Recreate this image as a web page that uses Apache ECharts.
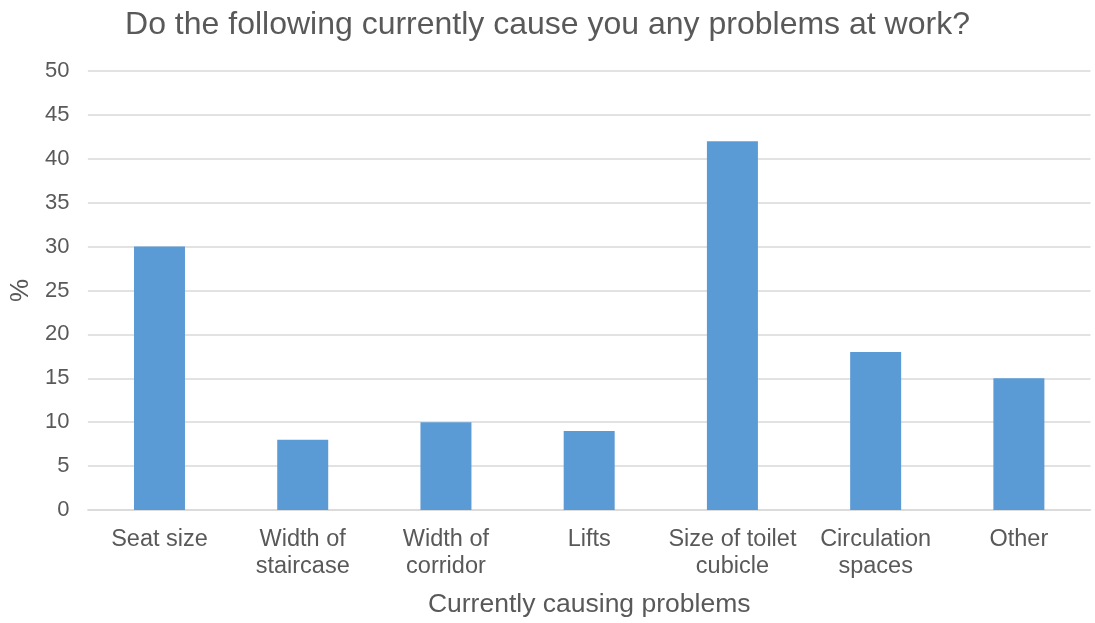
<!DOCTYPE html>
<html>
<head>
<meta charset="utf-8">
<script src="https://cdn.jsdelivr.net/npm/echarts@6/dist/echarts.min.js"></script>
<style>
html,body{margin:0;padding:0;background:#fff;}
#chart{width:1095px;height:623px;}
</style>
</head>
<body>
<div id="chart"></div>
<script>
const categories = ["Seat size", "Width of\nstaircase", "Width of\ncorridor", "Lifts", "Size of toilet\ncubicle", "Circulation\nspaces", "Other"];
const values = [30, 8, 10, 9, 42, 18, 15];
const yTicks = [0, 5, 10, 15, 20, 25, 30, 35, 40, 45, 50];

const FONT = "Liberation Sans, Arial, sans-serif";
const TXT = "#595959";
const chart = echarts.init(document.getElementById('chart'));
chart.setOption({
  animation: false,
  backgroundColor: '#ffffff',
  title: {
    text: 'Do the following currently cause you any problems at work?',
    left: 'center',
    top: 4,
    textStyle: { fontFamily: FONT, fontSize: 32, fontWeight: 'normal', color: TXT }
  },
  grid: { left: 85.5, right: 4.5, top: 71, bottom: 110.5, containLabel: false },
  xAxis: {
    type: 'category',
    data: categories,
    name: 'Currently causing problems',
    nameLocation: 'middle',
    nameGap: 81,
    nameTextStyle: { fontFamily: FONT, fontSize: 26.5, color: TXT },
    axisLine: { show: true, lineStyle: { color: '#d9d9d9', width: 1.5 } },
    axisTick: { show: false },
    axisLabel: { fontFamily: FONT, fontSize: 23.5, color: TXT, margin: 16, lineHeight: 27, interval: 0 }
  },
  yAxis: {
    type: 'value',
    min: yTicks[0],
    max: yTicks[yTicks.length - 1],
    interval: yTicks[1] - yTicks[0],
    name: '%',
    nameLocation: 'middle',
    nameGap: 50,
    nameRotate: 90,
    nameTextStyle: { fontFamily: FONT, fontSize: 26, color: TXT },
    axisLine: { show: false },
    axisTick: { show: false },
    axisLabel: { fontFamily: FONT, fontSize: 22, color: TXT, margin: 18.5 },
    splitLine: { lineStyle: { color: '#d9d9d9', width: 1.5 } }
  },
  series: [{
    type: 'bar',
    data: values,
    barWidth: 51,
    itemStyle: { color: '#5b9bd5' }
  }]
});
</script>
</body>
</html>
